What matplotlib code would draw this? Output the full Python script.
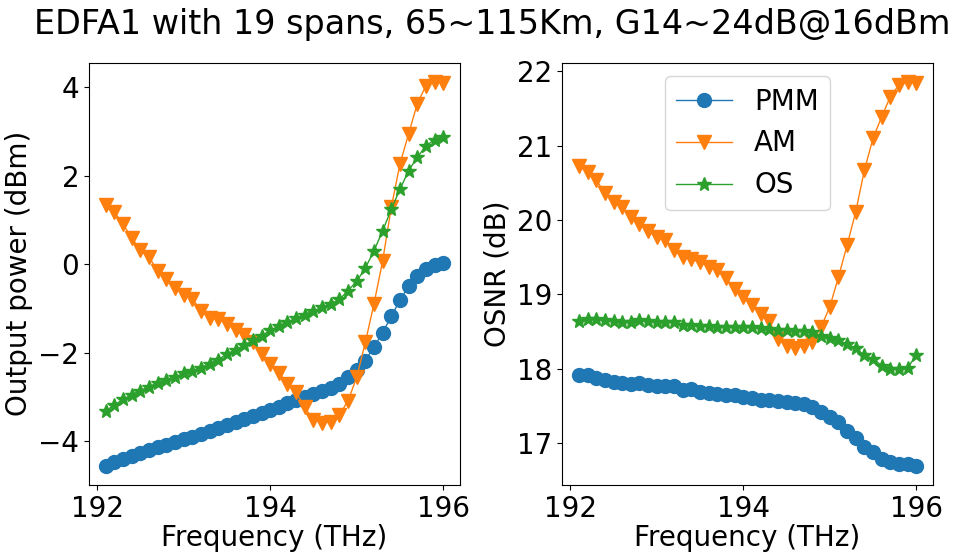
import matplotlib
matplotlib.use("Agg")
from matplotlib import pyplot as plt
import numpy as np

# 40 channels, 192.1 .. 196.0 THz
freq = np.round(np.arange(192.1, 196.05, 0.1), 1)

# output power per channel (dBm)
power_pmm = [-4.56, -4.48, -4.41, -4.34, -4.27, -4.20, -4.14, -4.08, -4.02, -3.96,
             -3.90, -3.84, -3.78, -3.71, -3.64, -3.57, -3.50, -3.43, -3.36, -3.29,
             -3.22, -3.15, -3.07, -3.00, -2.93, -2.87, -2.80, -2.70, -2.56, -2.40,
             -2.18, -1.87, -1.55, -1.18, -0.82, -0.50, -0.26, -0.11, -0.03, 0.02]
power_am = [1.34, 1.17, 0.90, 0.59, 0.31, 0.15, -0.15, -0.34, -0.53, -0.69,
            -0.78, -1.06, -1.21, -1.24, -1.36, -1.49, -1.60, -1.76, -2.04, -2.26,
            -2.46, -2.70, -2.90, -3.24, -3.52, -3.59, -3.56, -3.41, -3.09, -2.56,
            -1.77, -0.90, 0.07, 1.28, 2.26, 2.94, 3.62, 4.03, 4.12, 4.10]
power_os = [-3.32, -3.18, -3.06, -2.95, -2.86, -2.77, -2.68, -2.62, -2.55, -2.47,
            -2.41, -2.34, -2.25, -2.16, -2.03, -1.94, -1.83, -1.72, -1.62, -1.50,
            -1.40, -1.31, -1.22, -1.14, -1.06, -0.98, -0.90, -0.80, -0.60, -0.39,
            -0.09, 0.30, 0.75, 1.24, 1.69, 2.11, 2.41, 2.67, 2.81, 2.88]

# OSNR per channel (dB)
osnr_pmm = [17.91, 17.91, 17.87, 17.85, 17.82, 17.80, 17.79, 17.81, 17.78, 17.77,
            17.76, 17.76, 17.71, 17.72, 17.68, 17.67, 17.66, 17.65, 17.64, 17.62,
            17.60, 17.58, 17.57, 17.56, 17.55, 17.53, 17.52, 17.48, 17.41, 17.35,
            17.28, 17.16, 17.07, 16.94, 16.87, 16.78, 16.74, 16.71, 16.71, 16.69]
osnr_am = [20.72, 20.65, 20.54, 20.36, 20.24, 20.18, 20.04, 19.94, 19.85, 19.77,
           19.73, 19.59, 19.50, 19.47, 19.43, 19.37, 19.32, 19.22, 19.07, 18.96,
           18.85, 18.74, 18.64, 18.40, 18.30, 18.28, 18.30, 18.36, 18.56, 18.83,
           19.23, 19.66, 20.11, 20.67, 21.10, 21.39, 21.66, 21.82, 21.86, 21.85]
osnr_os = [18.64, 18.67, 18.66, 18.65, 18.64, 18.62, 18.62, 18.65, 18.64, 18.62,
           18.62, 18.63, 18.58, 18.59, 18.57, 18.57, 18.56, 18.56, 18.56, 18.56,
           18.56, 18.54, 18.53, 18.52, 18.52, 18.51, 18.50, 18.49, 18.44, 18.41,
           18.38, 18.33, 18.27, 18.18, 18.13, 18.04, 18.00, 18.00, 18.01, 18.18]

methods = ["PMM", "AM", "OS"]
markers = ["o", "v", "*"]

plt.rcParams["font.size"] = 20

fig, (ax1, ax2) = plt.subplots(1, 2, figsize=(9.67, 5.54), dpi=100)
fig.subplots_adjust(left=0.092, right=0.965, bottom=0.1245, top=0.887, wspace=0.275)

for ys, name, m in zip([power_pmm, power_am, power_os], methods, markers):
    ax1.plot(freq, ys, marker=m, markersize=10, linewidth=1, label=name)
for ys, name, m in zip([osnr_pmm, osnr_am, osnr_os], methods, markers):
    ax2.plot(freq, ys, marker=m, markersize=10, linewidth=1, label=name)

ax1.set_xlabel("Frequency (THz)", labelpad=1)
ax1.set_ylabel("Output power (dBm)")
ax1.set_xticks([192, 194, 196])
ax1.set_yticks([-4, -2, 0, 2, 4])

ax2.set_xlabel("Frequency (THz)", labelpad=1)
ax2.set_ylabel("OSNR (dB)")
ax2.set_xticks([192, 194, 196])
ax2.set_yticks([17, 18, 19, 20, 21, 22])
ax2.legend(loc="upper center")

fig.suptitle("EDFA1 with 19 spans, 65~115Km, G14~24dB@16dBm", x=0.509, y=0.985)

plt.savefig("out.png")
plt.close()
